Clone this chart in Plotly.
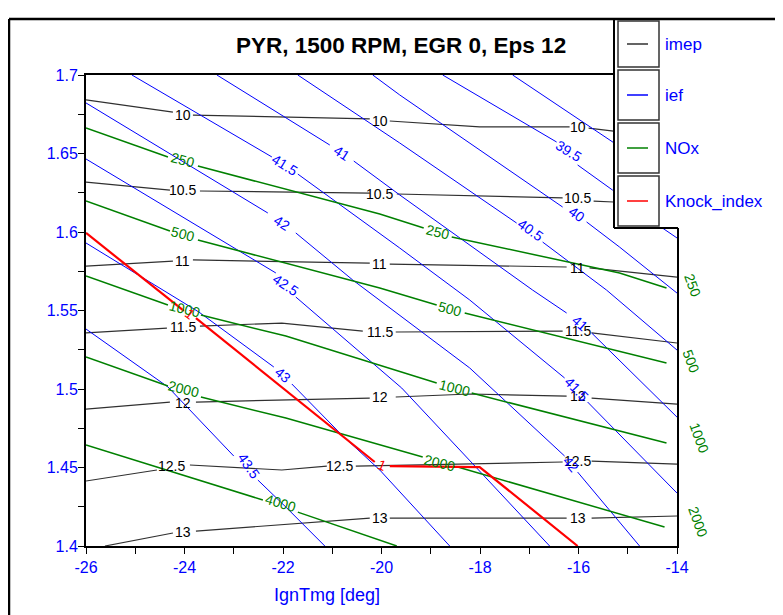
import plotly.graph_objects as go

# ---------------- data (contour polylines in data units; None = label gap) ----------------
x_range = [-26, -14]
y_range = [1.4, 1.7]
x_ticks = [-26, -24, -22, -20, -18, -16, -14]
x_tick_text = ["-26", "-24", "-22", "-20", "-18", "-16", "-14"]
y_ticks = [1.4, 1.45, 1.5, 1.55, 1.6, 1.65, 1.7]
y_tick_text = ["1.4", "1.45", "1.5", "1.55", "1.6", "1.65", "1.7"]

# imep (black)
imep10_x = [-26.0, -24.235, None, -23.829, -20.238, None, -19.832, -18.007, -16.181, None, -15.795, -15.288, -14.0]
imep10_y = [1.6841, 1.6764, None, 1.6745, 1.6720, None, 1.6707, 1.6669, 1.6669, None, 1.6662, 1.6643, 1.6630]
imep105_x = [-26.0, -24.296, None, -23.687, -20.238, None, -19.690, -16.322, None, -15.693, -15.288, -14.0]
imep105_y = [1.6318, 1.6267, None, 1.6261, 1.6248, None, 1.6242, 1.6217, None, 1.6197, 1.6191, 1.6178]
imep11_x = [-26.0, -24.235, None, -23.829, -20.238, None, -19.832, -16.241, None, -15.775, -14.0]
imep11_y = [1.5783, 1.5815, None, 1.5822, 1.5802, None, 1.5796, 1.5777, None, 1.5771, 1.5713]
imep115_x = [-26.0, -24.357, None, -23.687, -22.024, -20.380, None, -19.711, -16.322, None, -15.734, -14.0]
imep115_y = [1.5357, 1.5388, None, 1.5401, 1.5420, 1.5369, None, 1.5363, 1.5369, None, 1.5357, 1.5293]
imep12_x = [-26.0, -24.296, None, -23.768, -20.238, None, -19.711, -18.209, -16.241, None, -15.734, -14.0]
imep12_y = [1.4872, 1.4917, None, 1.4917, 1.4942, None, 1.4949, 1.4968, 1.4955, None, 1.4942, 1.4904]
imep125_x = [-26.0, -24.560, None, -23.890, -22.024, -21.110, None, -20.522, -16.322, None, -15.734, -14.0]
imep125_y = [1.4414, 1.4484, None, 1.4516, 1.4484, 1.4509, None, 1.4509, 1.4535, None, 1.4541, 1.4522]
imep13_x = [-25.615, -24.235, None, -23.768, -20.238, None, -19.832, -16.241, None, -15.734, -14.0]
imep13_y = [1.4, 1.4083, None, 1.4095, 1.4178, None, 1.4178, 1.4178, None, 1.4178, 1.4191]

imep_lbl_text = ["10", "10", "10", "10.5", "10.5", "10.5", "11", "11", "11",
                 "11.5", "11.5", "11.5", "12", "12", "12", "12.5", "12.5", "12.5", "13", "13", "13"]
imep_lbl_x = [-24.032, -20.035, -16.018, -24.032, -20.035, -16.018, -24.032, -20.035, -16.018,
              -24.032, -20.035, -16.018, -24.032, -20.035, -16.018, -24.255, -20.847, -16.018,
              -24.032, -20.035, -16.018]
imep_lbl_y = [1.6745, 1.6707, 1.6669, 1.6267, 1.6242, 1.6217, 1.5815, 1.5796, 1.5771,
              1.5395, 1.5363, 1.5369, 1.4911, 1.4949, 1.4955, 1.4509, 1.4509, 1.4541,
              1.4089, 1.4178, 1.4178]

# ief (blue)
ief39_x = [-17.337, -15.308, -14.0]
ief39_y = [1.7, 1.6573, 1.6299]
ief395_x = [-18.757, -16.444, None, -16.018, -15.308, -14.294, -14.0]
ief395_y = [1.7, 1.6573, None, 1.6427, 1.6267, 1.6025, 1.5962]
ief40_x = [-20.177, -19.630, -16.322, None, -15.836, -15.166, -14.0]
ief40_y = [1.7, 1.6873, 1.6159, None, 1.6064, 1.5904, 1.5611]
ief405_x = [-21.699, -19.630, -17.256, None, -16.728, -15.430, -14.0]
ief405_y = [1.7, 1.6567, 1.6057, None, 1.5936, 1.5630, 1.5248]
ief41_x = [-23.342, -21.050, None, -20.563, -19.630, -16.931, -16.241, None, -15.734, -14.0]
ief41_y = [1.7, 1.6554, None, 1.6452, 1.6236, 1.5630, 1.5484, None, 1.5357, 1.4821]
ief415_x = [-25.067, -22.226, None, -21.699, -19.630, -18.209, -16.282, None, -15.815, -14.0]
ief415_y = [1.7, 1.6478, None, 1.6369, 1.5898, 1.5567, 1.5070, None, 1.4917, 1.4337]
ief42_x = [-26.0, -22.308, None, -21.740, -20.583, -18.209, -16.282, None, -16.018, -14.760]
ief42_y = [1.6822, 1.6121, None, 1.5994, 1.5694, 1.5134, 1.4573, None, 1.4471, 1.4]
ief425_x = [-26.0, -22.145, None, -21.740, -19.589, -18.067, -16.586]
ief425_y = [1.6465, 1.5739, None, 1.5586, 1.5006, 1.4497, 1.4]
ief43_x = [-26.0, -23.707, -22.186, None, -21.821, -20.806, -20.035, -18.615]
ief43_y = [1.5930, 1.5490, 1.5140, None, 1.5032, 1.4707, 1.4484, 1.4]
ief435_x = [-26.0, -24.336, -23.0, None, -22.510, -21.942, -21.151]
ief435_y = [1.5382, 1.5013, 1.4573, None, 1.4420, 1.4248, 1.4]

ief_lbl_text = ["39.5", "40", "40.5", "41", "41", "41.5", "41.5", "42", "42", "42.5", "43", "43.5"]
ief_lbl_x = [-16.201, -16.038, -16.972, -20.806, -15.978, -21.963, -16.038, -22.024, -16.160,
             -21.942, -22.003, -22.693]
ief_lbl_y = [1.6516, 1.6115, 1.6013, 1.6503, 1.5420, 1.6427, 1.5000, 1.6057, 1.4522,
             1.5662, 1.5089, 1.4509]

# NOx (green)
nox250_x = [-26.0, -24.336, None, -23.728, -20.035, -19.143, None, -18.574, -15.166, -14.213]
nox250_y = [1.6662, 1.6478, None, 1.6420, 1.6115, 1.6025, None, 1.5968, 1.5739, 1.5643]
nox500_x = [-26.0, -24.296, None, -23.728, -20.035, -18.879, None, -18.311, -14.213]
nox500_y = [1.6197, 1.6006, None, 1.5949, 1.5643, 1.5535, None, 1.5484, 1.5165]
nox1000_x = [-26.0, -24.336, None, -23.667, -21.942, -18.879, None, -18.169, -14.213]
nox1000_y = [1.5720, 1.5535, None, 1.5471, 1.5337, 1.5038, None, 1.4974, 1.4656]
nox2000_x = [-26.0, -24.336, None, -23.667, -21.942, -19.163, None, -18.453, -14.253]
nox2000_y = [1.5204, 1.5019, None, 1.4949, 1.4815, 1.4567, None, 1.4503, 1.4121]
nox4000_x = [-26.0, -22.409, None, -21.699, -19.690]
nox4000_y = [1.4643, 1.4293, None, 1.4216, 1.4]

nox_lbl_text = ["250", "250", "500", "500", "1000", "1000", "2000", "2000", "4000"]
nox_lbl_x = [-24.032, -18.859, -24.032, -18.615, -23.991, -18.514, -24.012, -18.818, -22.044]
nox_lbl_y = [1.6459, 1.6000, 1.5987, 1.5509, 1.5509, 1.5006, 1.5000, 1.4528, 1.4274]

# NOx level labels placed beyond the right edge of the plot
nox_end_text = ["250", "500", "1000", "2000"]
nox_end_x = [-13.685, -13.706, -13.543, -13.564]
nox_end_y = [1.5662, 1.5173, 1.4690, 1.4156]

# Knock_index (red)
knock_x = [-26.0, -24.012, None, -23.768, -20.137, None, -19.832, -18.007, -16.018]
knock_y = [1.5994, 1.5497, None, 1.5452, 1.4535, None, 1.4509, 1.4503, 1.4]
knock_lbl_text = ["1", "1"]
knock_lbl_x = [-23.890, -19.995]
knock_lbl_y = [1.5478, 1.4516]

legend_names = ["imep", "ief", "NOx", "Knock_index"]

# ---------------- styles ----------------
FONT = "Liberation Sans, Arial, sans-serif"
BLACK_L = "#303030"
BLUE = "#0000ff"
GREEN = "#008000"
RED = "#ff0000"
ief_angles = [32, 35, 35, 33, 42, 32, 46, 32, 50, 34, 40, 55]
nox_angles = [15, 14, 15, 15, 14, 14, 14, 14, 17]
knock_angles = [38, 22]
LBL_SIZE = 14

W, H = 783, 615
OFF = 8  # page body margin
ML, MT = 78, 67
PW, PH = 591, 471
MR, MB = W - ML - PW, H - MT - PH
PLOT_L_PAGE, PLOT_B_PAGE = ML + OFF, MT + OFF + PH


def px(x):  # page pixel x -> paper
    return (x - PLOT_L_PAGE) / PW


def py(y):  # page pixel y -> paper
    return (PLOT_B_PAGE - y) / PH


def data_to_paper_x(v):
    return (v - x_range[0]) / (x_range[1] - x_range[0])


def data_to_paper_y(v):
    return (v - y_range[0]) / (y_range[1] - y_range[0])


fig = go.Figure()


def add_line(x, y, color, width):
    fig.add_trace(go.Scatter(x=x, y=y, mode="lines", line=dict(color=color, width=width),
                             hoverinfo="skip", showlegend=False, connectgaps=False))


for xs, ys in [(imep10_x, imep10_y), (imep105_x, imep105_y), (imep11_x, imep11_y),
               (imep115_x, imep115_y), (imep12_x, imep12_y), (imep125_x, imep125_y),
               (imep13_x, imep13_y)]:
    add_line(xs, ys, BLACK_L, 1.2)
for xs, ys in [(ief39_x, ief39_y), (ief395_x, ief395_y), (ief40_x, ief40_y), (ief405_x, ief405_y),
               (ief41_x, ief41_y), (ief415_x, ief415_y), (ief42_x, ief42_y), (ief425_x, ief425_y),
               (ief43_x, ief43_y), (ief435_x, ief435_y)]:
    add_line(xs, ys, BLUE, 1)
for xs, ys in [(nox250_x, nox250_y), (nox500_x, nox500_y), (nox1000_x, nox1000_y),
               (nox2000_x, nox2000_y), (nox4000_x, nox4000_y)]:
    add_line(xs, ys, GREEN, 1.5)
add_line(knock_x, knock_y, RED, 2.2)

ann = []


def lbl(text, x, y, color, angle=0, size=LBL_SIZE):
    ann.append(dict(text=text, x=x, y=y, xref="x", yref="y", showarrow=False,
                    textangle=angle, font=dict(family=FONT, size=size, color=color),
                    xanchor="center", yanchor="middle"))


for t, x, y in zip(imep_lbl_text, imep_lbl_x, imep_lbl_y):
    lbl(t, x, y, "#000000")
for t, x, y, a in zip(ief_lbl_text, ief_lbl_x, ief_lbl_y, ief_angles):
    lbl(t, x, y, BLUE, a)
for t, x, y, a in zip(nox_lbl_text, nox_lbl_x, nox_lbl_y, nox_angles):
    lbl(t, x, y, GREEN, a)
for t, x, y in zip(nox_end_text, nox_end_x, nox_end_y):
    ann.append(dict(text=t, x=data_to_paper_x(x), y=data_to_paper_y(y), xref="paper", yref="paper",
                    showarrow=False, textangle=70, xanchor="center", yanchor="middle",
                    font=dict(family=FONT, size=LBL_SIZE, color=GREEN)))
for t, x, y, a in zip(knock_lbl_text, knock_lbl_x, knock_lbl_y, knock_angles):
    lbl(t, x, y, RED, a)

# title and x-axis title
ann.append(dict(text="<b>PYR, 1500 RPM, EGR 0, Eps 12</b>", x=px(401), y=py(45), xref="paper",
                yref="paper", showarrow=False, xanchor="center", yanchor="middle",
                font=dict(family=FONT, size=22.5, color="#000000")))
ann.append(dict(text="IgnTmg [deg]", x=px(327), y=py(595), xref="paper", yref="paper",
                showarrow=False, xanchor="center", yanchor="middle",
                font=dict(family=FONT, size=18, color=BLUE)))

# frame and legend (drawn manually)
shapes = []
TOP = 19
shapes.append(dict(type="rect", xref="paper", yref="paper", x0=px(614), x1=px(800),
                   y0=py(TOP), y1=py(228), fillcolor="white", line=dict(width=0), layer="above"))
shapes.append(dict(type="line", xref="paper", yref="paper", x0=px(9), x1=px(800),
                   y0=py(TOP), y1=py(TOP), line=dict(color="black", width=2.5), layer="above"))
shapes.append(dict(type="line", xref="paper", yref="paper", x0=px(9), x1=px(9),
                   y0=py(TOP), y1=py(640), line=dict(color="black", width=2.5), layer="above"))
shapes.append(dict(type="line", xref="paper", yref="paper", x0=px(614), x1=px(614),
                   y0=py(TOP), y1=py(228), line=dict(color="black", width=2), layer="above"))
shapes.append(dict(type="line", xref="paper", yref="paper", x0=px(614), x1=px(678),
                   y0=py(228), y1=py(228), line=dict(color="black", width=2), layer="above"))
rows = [(21, 67), (70, 120), (123, 173), (176, 226)]
colors = [BLACK_L, BLUE, GREEN, RED]
for (r0, r1), c, name in zip(rows, colors, legend_names):
    shapes.append(dict(type="rect", xref="paper", yref="paper", x0=px(618), x1=px(659),
                       y0=py(r1), y1=py(r0), line=dict(color="#333333", width=1.5),
                       fillcolor="rgba(0,0,0,0)", layer="above"))
    yc = (r0 + r1) / 2
    shapes.append(dict(type="line", xref="paper", yref="paper", x0=px(627), x1=px(648),
                       y0=py(yc), y1=py(yc), line=dict(color=c, width=1.5), layer="above"))
    ann.append(dict(text=name, x=px(663), y=py(yc), xref="paper", yref="paper",
                    showarrow=False, xanchor="left", yanchor="middle",
                    font=dict(family=FONT, size=17, color=BLUE)))

fig.update_layout(
    width=W, height=H,
    margin=dict(l=ML, r=MR, t=MT, b=MB),
    paper_bgcolor="white", plot_bgcolor="white",
    showlegend=False,
    xaxis=dict(range=x_range, tickmode="array", tickvals=x_ticks, ticktext=x_tick_text,
               showgrid=False, zeroline=False, showline=True, mirror=True, linecolor="black",
               linewidth=2, ticks="outside", ticklen=6, tickcolor="black",
               tickfont=dict(family=FONT, size=16, color=BLUE),
               minor=dict(tick0=-26, dtick=1, ticks="outside", ticklen=6, tickcolor="black")),
    yaxis=dict(range=y_range, tickmode="array", tickvals=y_ticks, ticktext=y_tick_text,
               showgrid=False, zeroline=False, showline=True, mirror=True, linecolor="black",
               linewidth=2, ticks="outside", ticklen=6, tickcolor="black", ticklabelstandoff=-3,
               tickfont=dict(family=FONT, size=16, color=BLUE),
               minor=dict(tick0=1.4, dtick=0.025, ticks="outside", ticklen=6, tickcolor="black")),
    annotations=ann,
    shapes=shapes,
)

fig.write_html("out.html")
